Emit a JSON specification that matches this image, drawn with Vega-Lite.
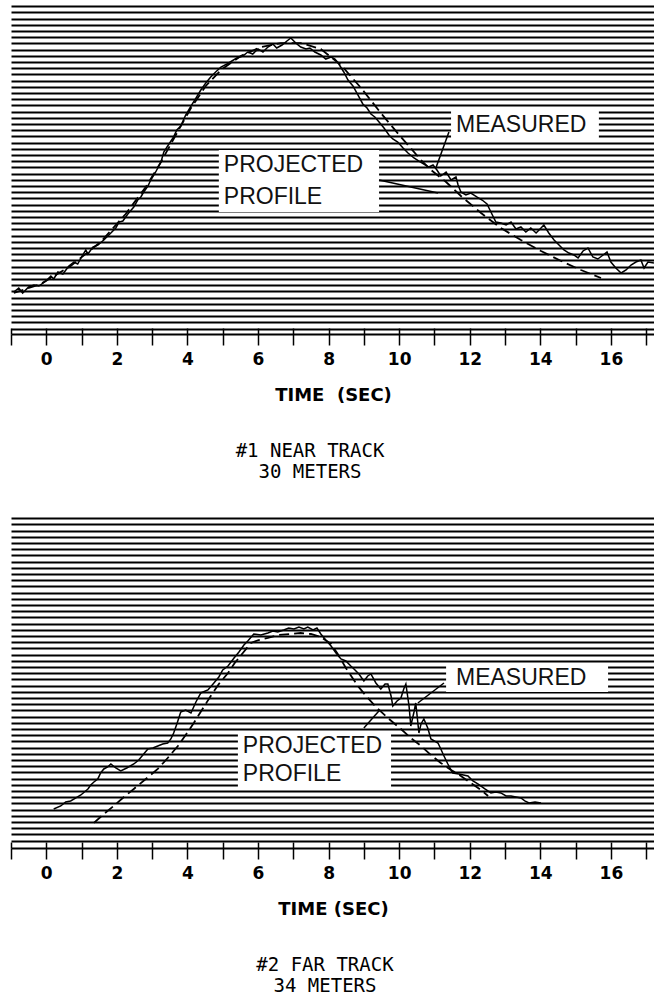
{
  "$schema": "https://vega.github.io/schema/vega-lite/v6.json",
  "padding": {"left": 10, "top": 0, "right": 0, "bottom": 0},
  "background": "#ffffff",
  "spacing": 30,
  "config": {
    "view": {"stroke": null},
    "title": {"color": "#000"}
  },
  "datasets": {
    "m1": [
      {"t":-0.92,"v":7.90},{"t":-0.78,"v":8.55},{"t":-0.67,"v":7.74},{"t":-0.50,"v":8.71},{"t":-0.35,"v":9.03},{"t":-0.21,"v":8.87},{"t":-0.01,"v":9.68},{"t":0.13,"v":10.48},{"t":0.21,"v":10.00},{"t":0.33,"v":11.13},{"t":0.47,"v":10.81},{"t":0.64,"v":12.10},{"t":0.78,"v":12.74},{"t":0.89,"v":12.42},{"t":1.03,"v":13.87},{"t":1.12,"v":14.68},{"t":1.18,"v":14.03},{"t":1.32,"v":15.16},{"t":1.46,"v":15.48},{"t":1.63,"v":16.29},{"t":1.83,"v":17.42},{"t":1.97,"v":18.23},{"t":2.06,"v":19.19},{"t":2.17,"v":19.35},{"t":2.31,"v":20.48},{"t":2.48,"v":21.61},{"t":2.59,"v":22.74},{"t":2.68,"v":23.23},{"t":2.76,"v":24.03},{"t":2.88,"v":25.00},{"t":2.96,"v":25.97},{"t":3.10,"v":27.26},{"t":3.25,"v":28.87},{"t":3.33,"v":30.48},{"t":3.44,"v":31.45},{"t":3.59,"v":32.74},{"t":3.70,"v":34.03},{"t":3.81,"v":34.68},{"t":3.95,"v":36.45},{"t":4.10,"v":37.90},{"t":4.24,"v":39.19},{"t":4.38,"v":40.48},{"t":4.52,"v":41.61},{"t":4.66,"v":42.58},{"t":4.80,"v":43.39},{"t":4.95,"v":44.19},{"t":5.12,"v":44.68},{"t":5.26,"v":45.16},{"t":5.40,"v":45.65},{"t":5.57,"v":45.97},{"t":5.71,"v":46.61},{"t":5.85,"v":46.29},{"t":6.00,"v":47.10},{"t":6.14,"v":46.61},{"t":6.28,"v":47.42},{"t":6.42,"v":47.90},{"t":6.53,"v":47.26},{"t":6.68,"v":47.74},{"t":6.82,"v":48.39},{"t":6.93,"v":48.87},{"t":7.07,"v":48.06},{"t":7.21,"v":47.42},{"t":7.36,"v":47.10},{"t":7.47,"v":47.26},{"t":7.61,"v":46.61},{"t":7.78,"v":46.13},{"t":7.92,"v":45.48},{"t":8.07,"v":45.81},{"t":8.18,"v":45.48},{"t":8.29,"v":44.68},{"t":8.43,"v":43.39},{"t":8.55,"v":42.10},{"t":8.69,"v":41.13},{"t":8.83,"v":39.68},{"t":8.97,"v":38.23},{"t":9.09,"v":37.58},{"t":9.20,"v":36.61},{"t":9.31,"v":36.13},{"t":9.43,"v":35.32},{"t":9.57,"v":34.35},{"t":9.71,"v":33.23},{"t":9.82,"v":32.58},{"t":9.96,"v":32.10},{"t":10.11,"v":31.13},{"t":10.25,"v":30.32},{"t":10.42,"v":29.52},{"t":10.56,"v":29.03},{"t":10.70,"v":28.55},{"t":10.84,"v":28.06},{"t":10.96,"v":28.39},{"t":11.07,"v":27.58},{"t":11.18,"v":26.61},{"t":11.33,"v":27.26},{"t":11.47,"v":25.97},{"t":11.61,"v":26.45},{"t":11.67,"v":25.16},{"t":11.75,"v":24.03},{"t":11.89,"v":23.55},{"t":12.03,"v":23.87},{"t":12.20,"v":23.23},{"t":12.35,"v":22.74},{"t":12.49,"v":22.10},{"t":12.60,"v":20.81},{"t":12.74,"v":19.19},{"t":12.88,"v":19.03},{"t":13.03,"v":18.71},{"t":13.17,"v":19.19},{"t":13.31,"v":18.06},{"t":13.45,"v":18.39},{"t":13.59,"v":17.58},{"t":13.73,"v":18.23},{"t":13.88,"v":17.42},{"t":14.02,"v":18.23},{"t":14.10,"v":18.71},{"t":14.24,"v":17.42},{"t":14.39,"v":16.29},{"t":14.53,"v":15.48},{"t":14.67,"v":14.68},{"t":14.81,"v":14.19},{"t":14.95,"v":13.87},{"t":15.07,"v":13.39},{"t":15.21,"v":14.52},{"t":15.35,"v":15.00},{"t":15.49,"v":13.55},{"t":15.63,"v":13.23},{"t":15.78,"v":13.87},{"t":15.89,"v":14.35},{"t":16.00,"v":12.74},{"t":16.14,"v":11.77},{"t":16.29,"v":10.97},{"t":16.43,"v":11.45},{"t":16.57,"v":12.26},{"t":16.71,"v":12.74},{"t":16.85,"v":13.06},{"t":16.94,"v":11.77},{"t":17.05,"v":12.74},{"t":17.22,"v":12.58}
    ],
    "p1": [
      {"t":-0.92,"v":7.74},{"t":-0.16,"v":9.19},{"t":0.69,"v":12.10},{"t":1.54,"v":15.97},{"t":2.25,"v":20.48},{"t":2.82,"v":24.84},{"t":3.25,"v":28.87},{"t":3.67,"v":33.23},{"t":4.10,"v":37.58},{"t":4.52,"v":41.13},{"t":4.95,"v":43.71},{"t":5.51,"v":45.97},{"t":6.08,"v":47.42},{"t":6.65,"v":48.06},{"t":7.21,"v":48.06},{"t":7.78,"v":47.10},{"t":8.35,"v":44.52},{"t":8.92,"v":40.81},{"t":9.48,"v":36.77},{"t":10.05,"v":32.90},{"t":10.62,"v":29.19},{"t":10.90,"v":27.58},{"t":11.33,"v":25.65},{"t":11.75,"v":23.39},{"t":12.32,"v":20.65},{"t":12.88,"v":18.23},{"t":13.45,"v":16.29},{"t":14.02,"v":14.52},{"t":14.59,"v":12.90},{"t":15.15,"v":11.45},{"t":15.72,"v":10.16}
    ],
    "m2": [
      {"t":0.21,"v":7.10},{"t":0.41,"v":7.58},{"t":0.55,"v":8.23},{"t":0.69,"v":8.39},{"t":0.84,"v":8.87},{"t":0.98,"v":9.35},{"t":1.18,"v":10.32},{"t":1.26,"v":10.97},{"t":1.35,"v":11.45},{"t":1.46,"v":11.94},{"t":1.54,"v":12.90},{"t":1.63,"v":13.55},{"t":1.74,"v":13.87},{"t":1.83,"v":14.35},{"t":1.97,"v":13.71},{"t":2.11,"v":13.23},{"t":2.28,"v":13.71},{"t":2.48,"v":14.35},{"t":2.62,"v":15.00},{"t":2.76,"v":15.97},{"t":2.88,"v":16.77},{"t":3.02,"v":16.94},{"t":3.16,"v":17.26},{"t":3.30,"v":17.58},{"t":3.44,"v":17.74},{"t":3.53,"v":18.39},{"t":3.61,"v":19.35},{"t":3.70,"v":20.81},{"t":3.81,"v":22.74},{"t":3.95,"v":23.06},{"t":4.10,"v":22.58},{"t":4.24,"v":24.35},{"t":4.38,"v":25.81},{"t":4.58,"v":26.29},{"t":4.75,"v":27.42},{"t":4.89,"v":28.39},{"t":5.00,"v":29.52},{"t":5.15,"v":30.16},{"t":5.32,"v":31.45},{"t":5.46,"v":32.42},{"t":5.60,"v":33.55},{"t":5.71,"v":34.19},{"t":5.88,"v":35.32},{"t":6.08,"v":35.16},{"t":6.28,"v":35.48},{"t":6.42,"v":35.81},{"t":6.56,"v":35.65},{"t":6.73,"v":35.97},{"t":6.87,"v":36.29},{"t":7.02,"v":36.13},{"t":7.16,"v":36.45},{"t":7.30,"v":36.13},{"t":7.41,"v":36.45},{"t":7.56,"v":35.97},{"t":7.67,"v":36.29},{"t":7.78,"v":35.32},{"t":7.92,"v":34.35},{"t":8.07,"v":33.39},{"t":8.21,"v":32.26},{"t":8.35,"v":31.29},{"t":8.49,"v":30.97},{"t":8.63,"v":30.16},{"t":8.72,"v":29.68},{"t":8.86,"v":28.87},{"t":9.00,"v":27.74},{"t":9.11,"v":28.55},{"t":9.20,"v":28.87},{"t":9.34,"v":27.42},{"t":9.48,"v":26.45},{"t":9.60,"v":27.26},{"t":9.68,"v":27.26},{"t":9.77,"v":25.32},{"t":9.82,"v":23.71},{"t":9.94,"v":24.52},{"t":10.05,"v":25.00},{"t":10.13,"v":26.45},{"t":10.19,"v":27.26},{"t":10.28,"v":23.71},{"t":10.33,"v":20.48},{"t":10.42,"v":22.74},{"t":10.47,"v":24.19},{"t":10.56,"v":19.35},{"t":10.62,"v":20.81},{"t":10.70,"v":21.61},{"t":10.81,"v":20.16},{"t":10.90,"v":18.39},{"t":11.10,"v":17.74},{"t":11.18,"v":16.77},{"t":11.27,"v":15.65},{"t":11.38,"v":14.35},{"t":11.52,"v":12.90},{"t":11.69,"v":12.74},{"t":11.95,"v":12.42},{"t":12.09,"v":11.61},{"t":12.23,"v":11.13},{"t":12.43,"v":10.32},{"t":12.60,"v":9.68},{"t":12.74,"v":9.84},{"t":12.88,"v":9.68},{"t":13.03,"v":9.19},{"t":13.17,"v":9.19},{"t":13.31,"v":9.03},{"t":13.45,"v":8.87},{"t":13.56,"v":8.39},{"t":13.68,"v":8.06},{"t":13.85,"v":8.23},{"t":14.02,"v":8.06}
    ],
    "p2": [
      {"t":1.35,"v":4.84},{"t":1.63,"v":6.29},{"t":1.91,"v":7.58},{"t":2.20,"v":9.03},{"t":2.48,"v":10.32},{"t":2.82,"v":11.94},{"t":3.16,"v":13.55},{"t":3.44,"v":15.32},{"t":3.73,"v":17.26},{"t":3.95,"v":19.03},{"t":4.18,"v":20.97},{"t":4.41,"v":23.06},{"t":4.66,"v":25.32},{"t":4.89,"v":27.26},{"t":5.15,"v":29.03},{"t":5.34,"v":30.65},{"t":5.57,"v":32.26},{"t":5.80,"v":33.87},{"t":6.02,"v":34.35},{"t":6.28,"v":34.68},{"t":6.59,"v":35.16},{"t":6.93,"v":35.32},{"t":7.21,"v":35.48},{"t":7.50,"v":35.32},{"t":7.78,"v":34.84},{"t":8.07,"v":33.71},{"t":8.26,"v":32.10},{"t":8.49,"v":29.84},{"t":8.83,"v":26.94},{"t":9.11,"v":25.00},{"t":9.40,"v":23.23},{"t":9.71,"v":21.61},{"t":10.05,"v":20.00},{"t":10.33,"v":18.55},{"t":10.62,"v":17.26},{"t":10.90,"v":15.81},{"t":11.18,"v":14.52},{"t":11.47,"v":13.39},{"t":11.75,"v":12.42},{"t":12.03,"v":11.29},{"t":12.32,"v":10.16},{"t":12.52,"v":9.19}
    ],
    "box1": [
      {"t":11.47,"t2":15.66,"v":37.26,"v2":32.26},
      {"t":4.89,"t2":9.43,"v":30.81,"v2":20.81}
    ],
    "lab1": [
      {"t":11.61,"v":34.84,"label":"MEASURED"},
      {"t":5.03,"v":28.39,"label":"PROJECTED"},
      {"t":5.03,"v":23.23,"label":"PROFILE"}
    ],
    "lead1": [
      {"t":11.41,"v":33.71,"t2":11.04,"v2":27.90},
      {"t":9.43,"v":25.97,"t2":11.10,"v2":23.87}
    ],
    "box2": [
      {"t":11.33,"t2":15.92,"v":30.65,"v2":25.97},
      {"t":5.43,"t2":9.77,"v":19.68,"v2":10.32}
    ],
    "lab2": [
      {"t":11.61,"v":28.23,"label":"MEASURED"},
      {"t":5.57,"v":17.26,"label":"PROJECTED"},
      {"t":5.57,"v":12.74,"label":"PROFILE"}
    ],
    "lead2": [
      {"t":11.27,"v":27.42,"t2":10.53,"v2":24.19},
      {"t":9.00,"v":20.16,"t2":9.45,"v2":23.06}
    ]
  },
  "vconcat": [
    {
      "width": 644,
      "height": 334,
      "title": {"text": ["#1 NEAR TRACK", "30 METERS"], "orient": "bottom", "anchor": "middle", "dx": -23, "font": "DejaVu Sans Mono", "fontSize": 19, "fontWeight": "normal", "lineHeight": 21, "offset": 38, "color": "#000"},
      "encoding": {
        "x": {"field": "t", "type": "quantitative", "scale": {"domain": [-1, 17.25], "nice": false, "zero": false},
          "axis": {"values": [-1,0,1,2,3,4,5,6,7,8,9,10,11,12,13,14,15,16,17], "format": "d", "grid": true, "gridColor": "#000", "gridWidth": 1.5, "gridOpacity": 1, "gridDash": [6, 328], "gridDashOffset": 6, "domainColor": "#000", "domainWidth": 2, "tickColor": "#000", "tickWidth": 1.5, "tickSize": 11, "labelExpr": "datum.value >= 0 && datum.value % 2 == 0 ? datum.label : ''", "labelFont": "DejaVu Sans", "labelFontWeight": "bold", "labelFontSize": 17, "labelColor": "#000", "labelPadding": 6, "labelOverlap": false, "labelFlush": false, "title": "TIME \u00a0(SEC)", "titleFont": "DejaVu Sans", "titleFontWeight": "bold", "titleFontSize": 18, "titleColor": "#000", "titlePadding": 19}},
        "y": {"field": "v", "type": "quantitative", "scale": {"domain": [1.13, 55], "nice": false, "zero": false},
          "axis": {"values": [2,3,4,5,6,7,8,9,10,11,12,13,14,15,16,17,18,19,20,21,22,23,24,25,26,27,28,29,30,31,32,33,34,35,36,37,38,39,40,41,42,43,44,45,46,47,48,49,50,51,52,53,54], "grid": true, "gridColor": "#000", "gridWidth": 2, "gridOpacity": 1, "labels": false, "ticks": false, "domain": false, "title": null, "minExtent": 0, "maxExtent": 0}}
      },
      "layer": [
        {"data": {"name": "box1"}, "mark": {"type": "rect", "fill": "#ffffff", "stroke": null}, "encoding": {"x2": {"field": "t2"}, "y2": {"field": "v2"}}},
        {"data": {"name": "p1"}, "mark": {"type": "line", "color": "#000", "strokeWidth": 1.8, "strokeDash": [10, 5]}},
        {"data": {"name": "m1"}, "mark": {"type": "line", "color": "#000", "strokeWidth": 1.5}},
        {"data": {"name": "lead1"}, "mark": {"type": "rule", "color": "#000", "strokeWidth": 1.5}, "encoding": {"x2": {"field": "t2"}, "y2": {"field": "v2"}}},
        {"data": {"name": "lab1"}, "mark": {"type": "text", "align": "left", "baseline": "middle", "font": "Liberation Sans", "fontSize": 23, "color": "#111"}, "encoding": {"text": {"field": "label"}}}
      ]
    },
    {
      "width": 644,
      "height": 336,
      "title": {"text": ["#2 FAR TRACK", "34 METERS"], "orient": "bottom", "anchor": "middle", "dx": -8, "font": "DejaVu Sans Mono", "fontSize": 19, "fontWeight": "normal", "lineHeight": 21, "offset": 38, "color": "#000"},
      "encoding": {
        "x": {"field": "t", "type": "quantitative", "scale": {"domain": [-1, 17.25], "nice": false, "zero": false},
          "axis": {"values": [-1,0,1,2,3,4,5,6,7,8,9,10,11,12,13,14,15,16,17], "format": "d", "grid": true, "gridColor": "#000", "gridWidth": 1.5, "gridOpacity": 1, "gridDash": [6, 330], "gridDashOffset": 6, "domainColor": "#000", "domainWidth": 2, "tickColor": "#000", "tickWidth": 1.5, "tickSize": 11, "labelExpr": "datum.value >= 0 && datum.value % 2 == 0 ? datum.label : ''", "labelFont": "DejaVu Sans", "labelFontWeight": "bold", "labelFontSize": 17, "labelColor": "#000", "labelPadding": 6, "labelOverlap": false, "labelFlush": false, "title": "TIME (SEC)", "titleFont": "DejaVu Sans", "titleFontWeight": "bold", "titleFontSize": 18, "titleColor": "#000", "titlePadding": 19}},
        "y": {"field": "v", "type": "quantitative", "scale": {"domain": [0.8, 55], "nice": false, "zero": false},
          "axis": {"values": [2,3,4,5,6,7,8,9,10,11,12,13,14,15,16,17,18,19,20,21,22,23,24,25,26,27,28,29,30,31,32,33,34,35,36,37,38,39,40,41,42,43,44,45,46,47,48,49,50,51,52,53,54], "grid": true, "gridColor": "#000", "gridWidth": 2, "gridOpacity": 1, "labels": false, "ticks": false, "domain": false, "title": null, "minExtent": 0, "maxExtent": 0}}
      },
      "layer": [
        {"data": {"name": "box2"}, "mark": {"type": "rect", "fill": "#ffffff", "stroke": null}, "encoding": {"x2": {"field": "t2"}, "y2": {"field": "v2"}}},
        {"data": {"name": "p2"}, "mark": {"type": "line", "color": "#000", "strokeWidth": 1.8, "strokeDash": [10, 5]}},
        {"data": {"name": "m2"}, "mark": {"type": "line", "color": "#000", "strokeWidth": 1.5}},
        {"data": {"name": "lead2"}, "mark": {"type": "rule", "color": "#000", "strokeWidth": 1.5}, "encoding": {"x2": {"field": "t2"}, "y2": {"field": "v2"}}},
        {"data": {"name": "lab2"}, "mark": {"type": "text", "align": "left", "baseline": "middle", "font": "Liberation Sans", "fontSize": 23, "color": "#111"}, "encoding": {"text": {"field": "label"}}}
      ]
    }
  ]
}
